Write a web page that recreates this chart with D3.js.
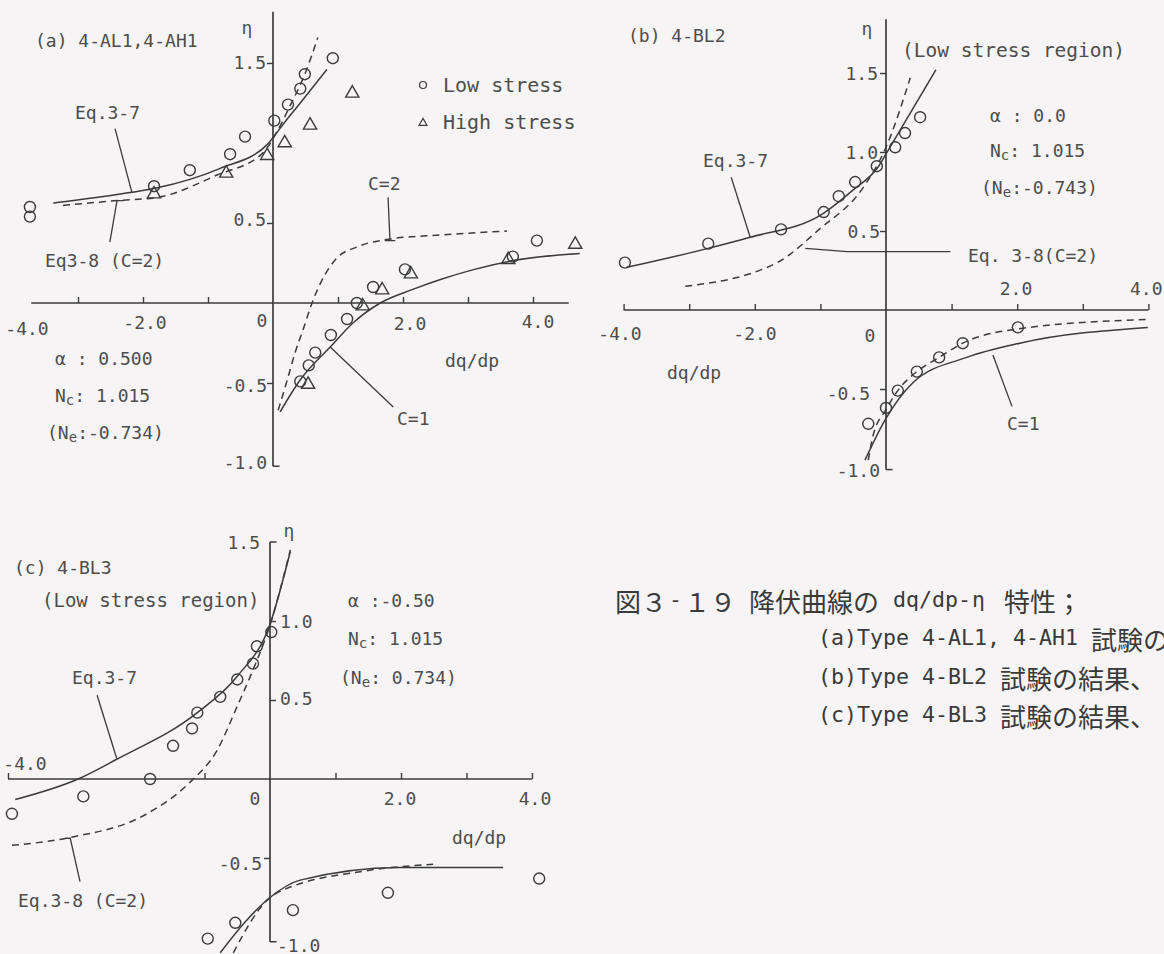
<!DOCTYPE html>
<html>
<head>
<meta charset="utf-8">
<script src="https://cdn.jsdelivr.net/npm/d3@7"></script>
<style>
  body { margin: 0; background: #f6f4f4; }
  svg { display: block; }
  .lbl { font-family: "DejaVu Sans Mono", monospace; font-size: 18px; fill: #4d4d4d; }
  .cap { font-family: "Noto Sans CJK JP", sans-serif; font-size: 26px; fill: #3a3a3a; }
  .capm { font-family: "DejaVu Sans Mono", monospace; font-size: 21px; fill: #3a3a3a; }
</style>
</head>
<body>
<svg id="fig" width="1164" height="954"></svg>
<script>
// ---------- (a) 4-AL1, 4-AH1 : [dq/dp, eta] ----------
const aLowUpper  = [[0.92,1.53],[0.49,1.43],[0.42,1.34],[0.23,1.24],[0.02,1.14],[-0.43,1.04],[-0.66,0.93],[-1.28,0.83],[-1.83,0.73],[-3.74,0.60],[-3.74,0.54]];
const aHighUpper = [[1.22,1.32],[0.57,1.12],[0.18,1.01],[-0.09,0.93],[-0.72,0.82],[-1.83,0.69]];
const aLowLower  = [[4.06,0.39],[3.69,0.29],[2.03,0.21],[1.54,0.10],[1.29,0.0],[1.14,-0.10],[0.89,-0.20],[0.65,-0.31],[0.55,-0.39],[0.42,-0.49]];
const aHighLower = [[4.65,0.375],[3.62,0.28],[2.12,0.19],[1.68,0.09],[1.38,-0.01],[0.54,-0.50]];
const aEq37  = [[-3.38,0.625],[-2.2,0.69],[-1.78,0.72],[-0.82,0.84],[-0.09,0.99],[0.18,1.13],[0.42,1.25],[0.83,1.46]];
const aEq38  = [[-3.23,0.61],[-2.4,0.64],[-1.78,0.66],[-0.86,0.80],[-0.15,0.94],[0.06,1.07],[0.26,1.23],[0.49,1.43],[0.69,1.66]];
const aC2    = [[0.08,-0.67],[0.22,-0.48],[0.34,-0.31],[0.46,-0.17],[0.6,0.0],[0.75,0.14],[0.98,0.28],[1.29,0.35],[1.8,0.40],[2.57,0.425],[3.6,0.45]];
const aC1    = [[0.11,-0.68],[0.42,-0.48],[0.88,-0.275],[1.23,-0.125],[1.65,0.0],[2.15,0.085],[2.6,0.15],[3.1,0.21],[3.69,0.265],[4.72,0.31]];

// ---------- (b) 4-BL2 ----------
const bLow = [[0.52,1.22],[0.29,1.12],[0.14,1.03],[-0.14,0.91],[-0.47,0.81],[-0.72,0.72],[-0.95,0.62],[-1.60,0.51],[-2.71,0.42],[-3.98,0.30],
              [2.01,-0.11],[1.17,-0.21],[0.81,-0.30],[0.47,-0.39],[0.18,-0.51],[0.0,-0.62],[-0.27,-0.72]];
const bEq37      = [[-3.95,0.27],[-2.71,0.39],[-2.07,0.46],[-0.96,0.61],[-0.5,0.76],[-0.12,0.905],[0.06,1.03],[0.76,1.52]];
const bEq38Upper = [[-3.06,0.15],[-1.66,0.30],[-1.02,0.51],[-0.34,0.78],[0,1.03],[0.37,1.47]];
const bEq38Lower = [[-0.27,-0.95],[-0.2,-0.80],[0,-0.63],[0.18,-0.51],[0.47,-0.39],[0.81,-0.30],[1.17,-0.21],[2.01,-0.12],[3.99,-0.06]];
const bC1        = [[-0.32,-0.95],[-0.02,-0.70],[0.41,-0.46],[1.23,-0.30],[2.04,-0.21],[3.99,-0.11]];

// ---------- (c) 4-BL3 ----------
const cLow = [[0.02,0.93],[-0.20,0.84],[-0.26,0.73],[-0.50,0.63],[-0.76,0.52],[-1.11,0.42],[-1.19,0.32],[-1.48,0.21],[-1.83,0.0],[-2.85,-0.11],[-3.94,-0.22],
              [0.35,-0.83],[1.80,-0.72],[4.11,-0.63],[-0.53,-0.91],[-0.95,-1.01]];
const cEq37      = [[-3.89,-0.13],[-2.93,0.0],[-2.34,0.125],[-1.11,0.42],[-0.50,0.65],[0,0.98],[0.31,1.44]];
const cEq38      = [[-3.94,-0.42],[-3.05,-0.37],[-1.88,-0.22],[-1.22,-0.02],[-0.81,0.18],[-0.49,0.47],[-0.26,0.69],[0,0.975],[0.31,1.45]];
const cC1Lower   = [[-0.76,-1.10],[-0.38,-0.905],[0,-0.75],[0.46,-0.64],[1.98,-0.56],[3.56,-0.56]];
const cC2Lower   = [[-0.56,-1.10],[-0.05,-0.77],[0.11,-0.72],[1.48,-0.58],[2.49,-0.54]];

// leader lines from curve labels to their curves
const aLeaders = [[[-2.43,1.09],[-2.17,0.69]], [[-2.51,0.38],[-2.40,0.64],[-2.30,0.64]],
                  [[1.77,0.66],[1.80,0.39]], [[1.72,0.39],[1.88,0.39]], [[0.88,-0.275],[1.85,-0.65]]];
const bLeaders = [[[-2.36,0.84],[-2.07,0.46]], [[-1.23,0.39],[-0.59,0.37],[0.98,0.37]], [[1.63,-0.285],[1.92,-0.61]]];
const cLeaders = [[[-2.64,0.53],[-2.34,0.13]], [[-3.12,-0.375],[-3.05,-0.375],[-2.90,-0.65]]];

// tick positions
const aXTicks = [-3,-2,-1,1,2,3,4], aYTicksL = [1.5,0.5,-0.5];
const bXTicks = [-4,-3,-2,-1,1,2,3,4], bYTicksL = [1.5,1.0,0.5,-0.5];
const cXTicks = [-4,-1,1,2,3,4], cYTicksR = [1.0,0.5], cYTicksL = [-0.5];

const svg = d3.select("#fig");
const INK = "#3b3b3b";

function makeScales(x0, ux, y0, uy) {
  return {
    x: d3.scaleLinear().domain([-4, 4]).range([x0 - 4*ux, x0 + 4*ux]),
    y: d3.scaleLinear().domain([-1, 1.5]).range([y0 + uy, y0 - 1.5*uy])
  };
}

function drawPanel(s, opt) {
  const g = svg.append("g");
  const line = d3.line().x(d => s.x(d[0])).y(d => s.y(d[1]));
  const smooth = d3.line().x(d => s.x(d[0])).y(d => s.y(d[1])).curve(d3.curveMonotoneX);

  // axes
  g.append("path").attr("d", line([[opt.xFrom,0],[opt.xTo,0]]))
    .attr("stroke", INK).attr("stroke-width", 1.7).attr("fill", "none");
  g.append("path").attr("d", line([[0,opt.yTop],[0,opt.yBot]]))
    .attr("stroke", INK).attr("stroke-width", 1.7).attr("fill", "none");
  // small hooks at the ends of the eta axis
  (opt.hooks || []).forEach(h => {
    g.append("path").attr("d", line([[0,h],[0.1,h]]))
      .attr("stroke", INK).attr("stroke-width", 1.5).attr("fill", "none");
  });

  const xt = g.append("g").attr("transform", `translate(0,${s.y(0)})`)
    .call(d3.axisTop(s.x).tickValues(opt.xTicks).tickSize(6).tickFormat(""));
  const yl = g.append("g").attr("transform", `translate(${s.x(0)},0)`)
    .call(d3.axisLeft(s.y).tickValues(opt.yTicksL || []).tickSize(6).tickFormat(""));
  const yr = g.append("g").attr("transform", `translate(${s.x(0)},0)`)
    .call(d3.axisRight(s.y).tickValues(opt.yTicksR || []).tickSize(6).tickFormat(""));
  [xt, yl, yr].forEach(a => {
    a.select(".domain").remove();
    a.selectAll("line").attr("stroke", INK).attr("stroke-width", 1.4);
  });

  // curves
  opt.solid.forEach(c => g.append("path").attr("d", smooth(c))
    .attr("fill", "none").attr("stroke", INK).attr("stroke-width", 1.5));
  opt.dashed.forEach(c => g.append("path").attr("d", smooth(c))
    .attr("fill", "none").attr("stroke", INK).attr("stroke-width", 1.5).attr("stroke-dasharray", "7,5"));
  opt.leaders.forEach(c => g.append("path").attr("d", line(c))
    .attr("fill", "none").attr("stroke", INK).attr("stroke-width", 1.3));

  // markers
  (opt.circles || []).forEach(set => g.selectAll(null).data(set).join("circle")
    .attr("cx", d => s.x(d[0])).attr("cy", d => s.y(d[1])).attr("r", 5.5)
    .attr("fill", "none").attr("stroke", INK).attr("stroke-width", 1.4));
  (opt.triangles || []).forEach(set => g.selectAll(null).data(set).join("path")
    .attr("d", d3.symbol(d3.symbolTriangle, 75))
    .attr("transform", d => `translate(${s.x(d[0])},${s.y(d[1]) + 1.5})`)
    .attr("fill", "none").attr("stroke", INK).attr("stroke-width", 1.4));
  return g;
}

function text(str, x, y, anchor, size) {
  return svg.append("text").attr("class", "lbl").attr("x", x).attr("y", y)
    .attr("dominant-baseline", "central").attr("text-anchor", anchor || "start")
    .style("font-size", (size || 18) + "px").text(str);
}
// "N_c: 1.015" style label with a subscript
function nLabel(prefix, sub, rest, x, y) {
  const t = svg.append("text").attr("class", "lbl").attr("x", x).attr("y", y)
    .attr("dominant-baseline", "central");
  t.append("tspan").text(prefix + "N");
  t.append("tspan").attr("dy", 5).style("font-size", "14px").text(sub);
  t.append("tspan").attr("dy", -5).text(rest);
}

// ---------- panel (a) ----------
const sa = makeScales(273, 65, 303, 160);
drawPanel(sa, {
  xFrom: -3.72, xTo: 4.55, yTop: 1.82, yBot: -1.02, hooks: [-1.02],
  xTicks: aXTicks, yTicksL: aYTicksL,
  solid: [aEq37, aC1], dashed: [aEq38, aC2], leaders: aLeaders,
  circles: [aLowUpper, aLowLower], triangles: [aHighUpper, aHighLower]
});
text("(a) 4-AL1,4-AH1", 35, 40);
text("η", 247, 27, "middle");
text("1.5", 266, 62, "end"); text("0.5", 266, 219, "end");
text("-0.5", 267, 385, "end"); text("-1.0", 267, 462, "end");
text("-4.0", 27, 328, "middle"); text("-2.0", 145, 322, "middle");
text("0", 262, 320, "middle"); text("2.0", 410, 323, "middle"); text("4.0", 538, 321, "middle");
text("dq/dp", 445, 360);
text("Eq.3-7", 75, 112);
text("Eq3-8 (C=2)", 45, 260);
text("C=2", 368, 183);
text("C=1", 397, 418);
text("α : 0.500", 55, 358);
nLabel("", "c", ": 1.015", 55, 395);
nLabel("(", "e", ":-0.734)", 47, 432);
// legend
svg.append("circle").attr("cx", 423).attr("cy", 85).attr("r", 3.5)
  .attr("fill", "none").attr("stroke", INK).attr("stroke-width", 1.2);
svg.append("path").attr("d", d3.symbol(d3.symbolTriangle, 28))
  .attr("transform", "translate(423,123)").attr("fill", "none").attr("stroke", INK).attr("stroke-width", 1.2);
text("Low stress", 443, 85, "start", 20);
text("High stress", 443, 122, "start", 20);

// ---------- panel (b) ----------
const sb = makeScales(886, 65.6, 310, 158);
drawPanel(sb, {
  xFrom: -4, xTo: 4, yTop: 1.84, yBot: -1.01, hooks: [-1.01],
  xTicks: bXTicks, yTicksL: bYTicksL,
  solid: [bEq37, bC1], dashed: [bEq38Upper, bEq38Lower], leaders: bLeaders,
  circles: [bLow]
});
text("(b) 4-BL2", 628, 35);
text("η", 867, 28, "middle");
text("(Low stress region)", 902, 50, "start", 19.5);
text("1.5", 878, 73, "end"); text("1.0", 878, 152, "end"); text("0.5", 880, 231, "end");
text("-0.5", 870, 393, "end"); text("-1.0", 880, 470, "end");
text("0", 870, 335, "middle");
text("-4.0", 620, 333, "middle"); text("-2.0", 755, 333, "middle");
text("2.0", 1016, 288, "middle"); text("4.0", 1130, 288);
text("dq/dp", 667, 372);
text("Eq.3-7", 703, 160);
text("Eq. 3-8(C=2)", 968, 255);
text("C=1", 1007, 423);
text("α : 0.0", 990, 115);
nLabel("", "c", ": 1.015", 990, 150);
nLabel("(", "e", ":-0.743)", 981, 187);

// ---------- panel (c) ----------
const sc = makeScales(270, 65.5, 779, 158);
drawPanel(sc, {
  xFrom: -4, xTo: 4, yTop: 1.5, yBot: -1.03, hooks: [1.5, -1.03],
  xTicks: cXTicks, yTicksL: cYTicksL, yTicksR: cYTicksR,
  solid: [cEq37, cC1Lower], dashed: [cEq38, cC2Lower], leaders: cLeaders,
  circles: [cLow]
});
text("(c) 4-BL3", 14, 567);
text("(Low stress region)", 42, 600, "start", 19);
text("η", 289, 530, "middle");
text("1.5", 260, 542, "end"); text("1.0", 280, 621); text("0.5", 280, 698);
text("-0.5", 262, 863, "end"); text("-1.0", 277, 945);
text("-4.0", 25, 763, "middle"); text("0", 255, 798, "middle");
text("2.0", 400, 798, "middle"); text("4.0", 535, 798, "middle");
text("dq/dp", 452, 837);
text("Eq.3-7", 72, 677);
text("Eq.3-8 (C=2)", 18, 900);
text("α :-0.50", 348, 600);
nLabel("", "c", ": 1.015", 348, 638);
nLabel("(", "e", ": 0.734)", 340, 677);

// ---------- caption: full-width kanji 26px, half-width latin 13px ----------
const HALF = 13;
function capSeg(str, cls, x, y, len) {
  const t = svg.append("text").attr("class", cls).attr("x", x).attr("y", y)
    .attr("dominant-baseline", "central").text(str);
  if (len) t.attr("textLength", len).attr("lengthAdjust", "spacingAndGlyphs");
  return t;
}
capSeg("図３", "cap", 615, 600);
capSeg("-", "capm", 669, 600, HALF);
capSeg("１９", "cap", 684, 600);
capSeg("降伏曲線の", "cap", 749, 600);
capSeg("dq/dp-", "capm", 893, 600, 6 * HALF);
capSeg("η", "capm", 972, 600, HALF);
capSeg("特性；", "cap", 1004, 600);
[["(a)Type 4-AL1, 4-AH1", 638], ["(b)Type 4-BL2", 677], ["(c)Type 4-BL3", 715]].forEach(([s, y]) => {
  capSeg(s, "capm", 818, y, s.length * HALF);
  capSeg("試験の結果、", "cap", 818 + (s.length + 1) * HALF, y);
});
</script>
</body>
</html>
